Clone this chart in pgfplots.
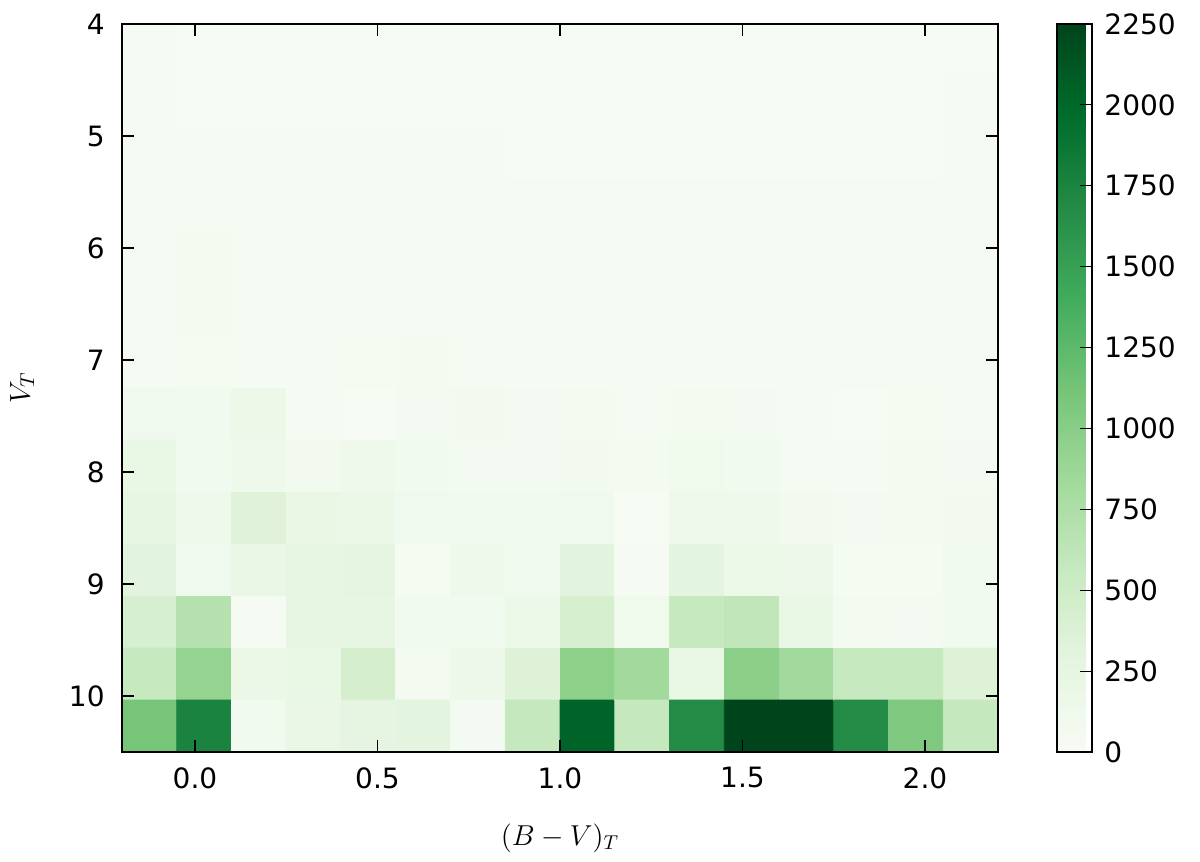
\documentclass[border=0pt]{standalone}
\usepackage{fontspec}
\setmainfont{DejaVu Sans}
\usepackage{pgfplots}
\pgfplotsset{compat=1.18}

\begin{document}
\begin{tikzpicture}
\begin{axis}[
  scale only axis, width=438pt, height=364pt,
  xmin=-0.2, xmax=2.2, ymin=4, ymax=10.5, y dir=reverse,
  xtick={0,0.5,1,1.5,2}, ytick={4,5,6,7,8,9,10},
  tick align=inside, major tick length=6pt,
  tick style={black, line width=0.6pt},
  axis line style={line width=1.2pt},
  axis on top,
  /pgf/number format/assume math mode=true,
  tick label style={font=\fontsize{14}{16}\selectfont},
  xticklabel style={inner sep=0pt, yshift=-7.5pt,
    /pgf/number format/fixed, /pgf/number format/fixed zerofill, /pgf/number format/precision=1},
  yticklabel style={inner sep=0pt, xshift=-8.5pt},
  label style={font=\fontsize{14}{16}\selectfont},
  xlabel={$(B-V)_T$}, ylabel={$V_T$},
  xlabel style={at={(axis description cs:0.5,-0.118)}, anchor=center},
  ylabel style={at={(axis description cs:-0.114,0.5)}, anchor=center},
  colormap={greens}{rgb255=(247,252,245) rgb255=(229,245,224) rgb255=(199,233,192)
    rgb255=(161,217,155) rgb255=(116,196,118) rgb255=(65,171,93) rgb255=(35,139,69)
    rgb255=(0,109,44) rgb255=(0,68,27)},
  point meta min=0, point meta max=2250,
  colorbar,
  colorbar style={
    at={(parent axis.north east)}, anchor=north west, xshift=21pt,
    scale only axis, width=17.5pt, height=364pt,
    ytick={0,250,500,750,1000,1250,1500,1750,2000,2250},
    ytick pos=right, yticklabel pos=right,
    tick align=inside, major tick length=6pt,
    tick style={black, line width=0.6pt},
    axis line style={line width=1.2pt},
    /pgf/number format/assume math mode=true,
    yticklabel style={font=\fontsize{14}{16}\selectfont, inner sep=0pt, xshift=6pt,
      /pgf/number format/1000 sep={}},
  },
]
% 2D histogram: 16 colour bins x 14 magnitude bins, counts per cell
\addplot[matrix plot*, mesh/cols=16, point meta=explicit] coordinates {
(-0.125,4.2321)[40] (0.025,4.2321)[20] (0.175,4.2321)[20] (0.325,4.2321)[20] (0.475,4.2321)[20] (0.625,4.2321)[20] (0.775,4.2321)[20] (0.925,4.2321)[20] (1.075,4.2321)[20] (1.225,4.2321)[20] (1.375,4.2321)[20] (1.525,4.2321)[20] (1.675,4.2321)[20] (1.825,4.2321)[20] (1.975,4.2321)[20] (2.125,4.2321)[20]
(-0.125,4.6964)[35] (0.025,4.6964)[20] (0.175,4.6964)[20] (0.325,4.6964)[20] (0.475,4.6964)[20] (0.625,4.6964)[20] (0.775,4.6964)[20] (0.925,4.6964)[20] (1.075,4.6964)[20] (1.225,4.6964)[20] (1.375,4.6964)[20] (1.525,4.6964)[20] (1.675,4.6964)[20] (1.825,4.6964)[20] (1.975,4.6964)[20] (2.125,4.6964)[25]
(-0.125,5.1607)[35] (0.025,5.1607)[25] (0.175,5.1607)[25] (0.325,5.1607)[30] (0.475,5.1607)[30] (0.625,5.1607)[30] (0.775,5.1607)[25] (0.925,5.1607)[20] (1.075,5.1607)[20] (1.225,5.1607)[20] (1.375,5.1607)[20] (1.525,5.1607)[20] (1.675,5.1607)[20] (1.825,5.1607)[20] (1.975,5.1607)[20] (2.125,5.1607)[25]
(-0.125,5.6250)[35] (0.025,5.6250)[40] (0.175,5.6250)[30] (0.325,5.6250)[30] (0.475,5.6250)[25] (0.625,5.6250)[30] (0.775,5.6250)[25] (0.925,5.6250)[25] (1.075,5.6250)[30] (1.225,5.6250)[25] (1.375,5.6250)[30] (1.525,5.6250)[30] (1.675,5.6250)[25] (1.825,5.6250)[25] (1.975,5.6250)[25] (2.125,5.6250)[25]
(-0.125,6.0893)[40] (0.025,6.0893)[55] (0.175,6.0893)[45] (0.325,6.0893)[35] (0.475,6.0893)[35] (0.625,6.0893)[35] (0.775,6.0893)[35] (0.925,6.0893)[35] (1.075,6.0893)[30] (1.225,6.0893)[35] (1.375,6.0893)[30] (1.525,6.0893)[35] (1.675,6.0893)[35] (1.825,6.0893)[40] (1.975,6.0893)[45] (2.125,6.0893)[30]
(-0.125,6.5536)[30] (0.025,6.5536)[55] (0.175,6.5536)[30] (0.325,6.5536)[45] (0.475,6.5536)[40] (0.625,6.5536)[35] (0.775,6.5536)[30] (0.925,6.5536)[30] (1.075,6.5536)[40] (1.225,6.5536)[35] (1.375,6.5536)[35] (1.525,6.5536)[40] (1.675,6.5536)[40] (1.825,6.5536)[35] (1.975,6.5536)[40] (2.125,6.5536)[30]
(-0.125,7.0179)[30] (0.025,7.0179)[50] (0.175,7.0179)[45] (0.325,7.0179)[45] (0.475,7.0179)[50] (0.625,7.0179)[55] (0.775,7.0179)[45] (0.925,7.0179)[40] (1.075,7.0179)[40] (1.225,7.0179)[40] (1.375,7.0179)[40] (1.525,7.0179)[45] (1.675,7.0179)[25] (1.825,7.0179)[35] (1.975,7.0179)[45] (2.125,7.0179)[40]
(-0.125,7.4821)[110] (0.025,7.4821)[90] (0.175,7.4821)[160] (0.325,7.4821)[45] (0.475,7.4821)[10] (0.625,7.4821)[60] (0.775,7.4821)[80] (0.925,7.4821)[60] (1.075,7.4821)[55] (1.225,7.4821)[45] (1.375,7.4821)[55] (1.525,7.4821)[60] (1.675,7.4821)[40] (1.825,7.4821)[20] (1.975,7.4821)[50] (2.125,7.4821)[45]
(-0.125,7.9464)[220] (0.025,7.9464)[100] (0.175,7.9464)[130] (0.325,7.9464)[80] (0.475,7.9464)[140] (0.625,7.9464)[90] (0.775,7.9464)[60] (0.925,7.9464)[60] (1.075,7.9464)[80] (1.225,7.9464)[70] (1.375,7.9464)[120] (1.525,7.9464)[90] (1.675,7.9464)[40] (1.825,7.9464)[30] (1.975,7.9464)[70] (2.125,7.9464)[60]
(-0.125,8.4107)[250] (0.025,8.4107)[130] (0.175,8.4107)[330] (0.325,8.4107)[210] (0.475,8.4107)[180] (0.625,8.4107)[110] (0.775,8.4107)[100] (0.925,8.4107)[100] (1.075,8.4107)[110] (1.225,8.4107)[20] (1.375,8.4107)[130] (1.525,8.4107)[130] (1.675,8.4107)[80] (1.825,8.4107)[60] (1.975,8.4107)[70] (2.125,8.4107)[80]
(-0.125,8.8750)[300] (0.025,8.8750)[110] (0.175,8.8750)[200] (0.325,8.8750)[260] (0.475,8.8750)[270] (0.625,8.8750)[50] (0.775,8.8750)[130] (0.925,8.8750)[110] (1.075,8.8750)[300] (1.225,8.8750)[30] (1.375,8.8750)[290] (1.525,8.8750)[170] (1.675,8.8750)[150] (1.825,8.8750)[50] (1.975,8.8750)[50] (2.125,8.8750)[100]
(-0.125,9.3393)[420] (0.025,9.3393)[700] (0.175,9.3393)[30] (0.325,9.3393)[250] (0.475,9.3393)[260] (0.625,9.3393)[100] (0.775,9.3393)[100] (0.925,9.3393)[170] (1.075,9.3393)[430] (1.225,9.3393)[120] (1.375,9.3393)[560] (1.525,9.3393)[610] (1.675,9.3393)[220] (1.825,9.3393)[70] (1.975,9.3393)[60] (2.125,9.3393)[100]
(-0.125,9.8036)[560] (0.025,9.8036)[920] (0.175,9.8036)[190] (0.325,9.8036)[220] (0.475,9.8036)[440] (0.625,9.8036)[70] (0.775,9.8036)[150] (0.925,9.8036)[360] (1.075,9.8036)[970] (1.225,9.8036)[840] (1.375,9.8036)[230] (1.525,9.8036)[980] (1.675,9.8036)[840] (1.825,9.8036)[570] (1.975,9.8036)[570] (2.125,9.8036)[360]
(-0.125,10.2679)[1110] (0.025,10.2679)[1760] (0.175,10.2679)[100] (0.325,10.2679)[200] (0.475,10.2679)[270] (0.625,10.2679)[290] (0.775,10.2679)[60] (0.925,10.2679)[580] (1.075,10.2679)[2030] (1.225,10.2679)[580] (1.375,10.2679)[1690] (1.525,10.2679)[2250] (1.675,10.2679)[2250] (1.825,10.2679)[1690] (1.975,10.2679)[1060] (2.125,10.2679)[580]
};
\coordinate (sw) at (axis description cs:0,0);
\coordinate (ne) at (axis description cs:1,1);
\end{axis}
\pgfresetboundingbox
\path ([shift={(-61pt,-55pt)}]sw) rectangle ([shift={(101pt,12pt)}]ne);
\end{tikzpicture}
\end{document}
